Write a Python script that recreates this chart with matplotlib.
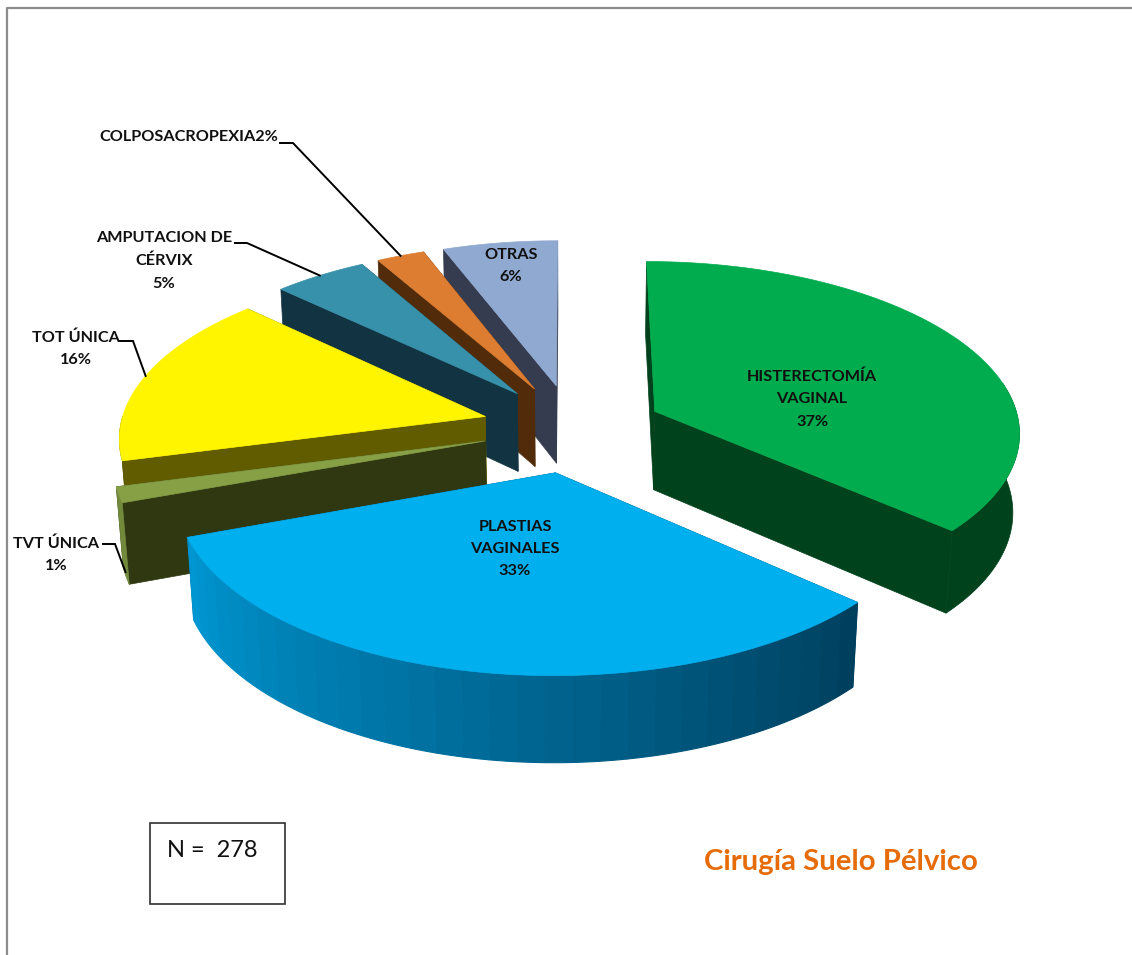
import numpy as np
import matplotlib
matplotlib.use('Agg')
import matplotlib.pyplot as plt
from matplotlib.patches import Polygon, Rectangle

# Share of each surgery, clockwise from 12 o'clock (labels show them rounded)
categories = ['HISTERECTOMÍA\nVAGINAL', 'PLASTIAS\nVAGINALES', 'TVT ÚNICA', 'TOT ÚNICA',
              'AMPUTACION DE\nCÉRVIX', 'COLPOSACROPEXIA', 'OTRAS']
values = [36.6, 32.8, 1.45, 16.3, 4.7, 2.4, 5.75]
total_n = 278

top_colors = ['#00AC4D', '#00AFEE', '#87A046', '#FFF500', '#3891AB', '#DC7D32', '#90A9D0']
side_colors = ['#00421C', '#00405F', '#73893C', '#625C00', '#123442', '#522C0A', '#363C50']
cut_colors = ['#00421C', '#00405F', '#303812', '#625C00', '#123442', '#522C0A', '#363C50']
explode_x = [0.254, 0.22, 0.244, 0.244, 0.245, 0.242, 0.23]
explode_y = [0.22, 0.27, 0.28, 0.24, 0.25, 0.25, 0.25]

# Projection settings of the tilted pie, in pixels
CX, CY = 571, 426.5
RX, RY = 365, 169.5
PERSP = 0.11
DEPTH = 80
DEPTH_PERSP = 0.015


def project(x, y, z=0.0):
    d = 1 - PERSP * y + DEPTH_PERSP * z
    return CX + RX * x / d, CY + (RY * y + DEPTH * z) / d


def rim(theta, shift, z=0.0):
    # theta in degrees, clockwise from the top
    t = np.radians(theta)
    return project(shift[0] + np.sin(t), shift[1] - np.cos(t), z)


def blend(c1, c2, f):
    a = np.array(matplotlib.colors.to_rgb(c1))
    b = np.array(matplotlib.colors.to_rgb(c2))
    return tuple(a + (b - a) * f)


fig = plt.figure(figsize=(11.32, 9.55), dpi=100)
ax = fig.add_axes([0, 0, 1, 1])
ax.set_xlim(0, 1132)
ax.set_ylim(955, 0)
ax.axis('off')

# page frame of the original screenshot
ax.plot([7, 7, 1132], [955, 8, 8], color='#8C8C8C', lw=1.6)

edges = np.cumsum([0] + values) * 3.6
shifts = []
for i in range(len(values)):
    mid = np.radians((edges[i] + edges[i + 1]) / 2)
    shifts.append((explode_x[i] * np.sin(mid), -explode_y[i] * np.cos(mid)))

# back slices first, the big front slice last
draw_order = [6, 5, 4, 0, 3, 2, 1]
for i in draw_order:
    a0, a1 = edges[i], edges[i + 1]
    s = shifts[i]

    for a in (a0, a1):
        pts = [project(s[0], s[1]), rim(a, s), rim(a, s, 1), project(s[0], s[1], 1)]
        ax.add_patch(Polygon(pts, closed=True, facecolor=cut_colors[i], edgecolor=cut_colors[i], lw=0.5))

    # only the front part of the rim can be seen
    v0, v1 = max(a0, 80), min(a1, 270)
    if v1 > v0:
        if i == 1:
            # the front slice shades from dark to light going round, in visible bands
            bands = np.linspace(v0, v1, 32)
            for k in range(len(bands) - 1):
                arc = np.linspace(bands[k], bands[k + 1], 6)
                pts = [rim(a, s) for a in arc] + [rim(a, s, 1) for a in arc[::-1]]
                color = blend('#00405F', '#0096D2', k / (len(bands) - 2))
                ax.add_patch(Polygon(pts, closed=True, facecolor=color, edgecolor=color, lw=0.8))
        else:
            arc = np.linspace(v0, v1, 80)
            pts = [rim(a, s) for a in arc] + [rim(a, s, 1) for a in arc[::-1]]
            ax.add_patch(Polygon(pts, closed=True, facecolor=side_colors[i], edgecolor=side_colors[i], lw=0.5))

    top = [project(s[0], s[1])] + [rim(a, s) for a in np.linspace(a0, a1, 120)]
    ax.add_patch(Polygon(top, closed=True, facecolor=top_colors[i], edgecolor=top_colors[i], lw=0.5))

FONT = 'Lato'
LABEL_PT = 11.7
TEXT_COLOR = '#101010'
LINE_GAP = 1.75


def pct(i):
    return f'{values[i]:.0f}%'


# labels inside the slices and beside the small ones
label_pos = {0: (812, 399), 1: (515, 549), 6: (511, 266), 2: (56, 555), 3: (76, 349), 4: (164, 261)}
for i, (x, y) in label_pos.items():
    ax.text(x, y, f'{categories[i]}\n{pct(i)}', ha='center', va='center', family=FONT,
            fontweight='bold', fontsize=LABEL_PT, linespacing=LINE_GAP, color=TEXT_COLOR)
ax.text(189, 137, f'{categories[5]}{pct(5)}', ha='center', va='center', family=FONT,
        fontweight='bold', fontsize=LABEL_PT, color=TEXT_COLOR)

# leader lines of the outside labels
leader_starts = {2: [(103, 544), (115, 544)], 3: [(120, 341), (133, 341)],
                 4: [(235, 243), (247, 243)], 5: [(280, 143), (293, 143)]}
for i, start in leader_starts.items():
    mid_angle = (edges[i] + edges[i + 1]) / 2
    end = rim(mid_angle, shifts[i], 0.95 if i == 2 else 0)
    xs = [p[0] for p in start] + [end[0]]
    ys = [p[1] for p in start] + [end[1]]
    ax.plot(xs, ys, color='black', lw=1.4, solid_joinstyle='miter')

# sample size box and caption
ax.add_patch(Rectangle((150, 823), 135, 81, facecolor='white', edgecolor='#303030', lw=1.2))
ax.text(167, 850, f'N =  {total_n}', ha='left', va='center', family=FONT, fontsize=17, color='#111111')
ax.text(704, 862, 'Cirugía Suelo Pélvico', ha='left', va='center', family=FONT,
        fontweight='bold', fontsize=21.2, color='#E66C0A')

fig.savefig('out.png', dpi=100, facecolor='white')
plt.close(fig)
